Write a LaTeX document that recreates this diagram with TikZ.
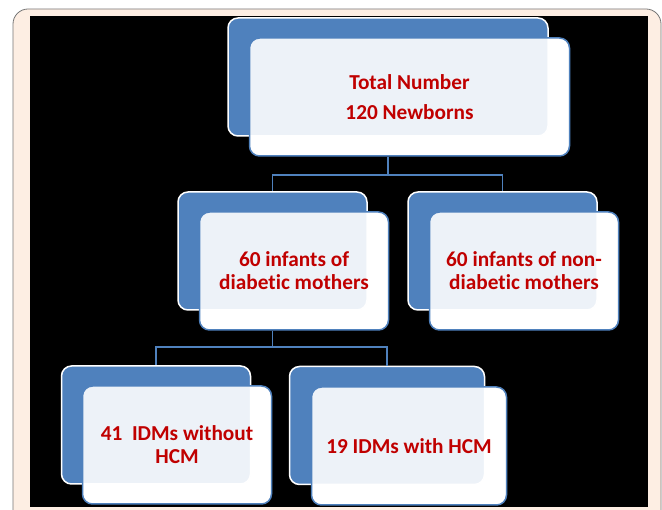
\documentclass[tikz,border=0pt]{standalone}
\usepackage{fontspec}
\setmainfont{Carlito}[Ligatures=NoCommon]
\usetikzlibrary{positioning,calc}
\definecolor{smartblue}{RGB}{79,129,189}
\definecolor{textred}{RGB}{192,0,0}
\definecolor{softpeach}{RGB}{253,238,227}
\definecolor{framegray}{RGB}{118,118,118}

\tikzset{
  backbox/.style={draw=white, line width=1.5pt, fill=smartblue, rounded corners=10pt, minimum height=118pt, inner sep=0pt},
  frontbase/.style={fill=white, rounded corners=10pt, minimum height=118pt, inner sep=0pt},
  frontbox/.style={draw=smartblue, line width=1.5pt, fill=white, fill opacity=0.9, text opacity=1, rounded corners=10pt,
    minimum height=118pt, inner sep=0pt, align=center, text=textred, font=\bfseries\fontsize{21.3}{23}\selectfont},
  link/.style={draw=smartblue, line width=1.8pt}
}

\begin{document}
\begin{tikzpicture}[x=1pt, y=-1pt]
        \useasboundingbox (0,0) rectangle (662,510);
        \fill[white] (0,0) rectangle (662,510);
        \draw[draw=framegray, fill=softpeach, line width=0.8pt, rounded corners=15pt] (13,9) rectangle (661,540);
        \fill[black] (30,16) rectangle (648,507);
        % top level
        \node[frontbase, minimum width=320pt] (totalbase) at (409.5,97) {};
        \node[backbox, minimum width=320pt] (totalback) at (388,77) {};
        \node[frontbox, minimum width=320pt, font=\bfseries\fontsize{21.3}{30}\selectfont] (total) at (409.5,97) {Total Number\\120 Newborns};
        % second level
        \node[frontbase, minimum width=189pt] (idmbase) at (294,271) {};
        \node[backbox, minimum width=189pt] (idmback) at (272.5,251) {};
        \node[frontbox, minimum width=189pt] (idm) at (294,271) {60 infants of\\diabetic mothers};
        \node[frontbase, minimum width=189pt] (nonbase) at (524,271) {};
        \node[backbox, minimum width=189pt] (nonback) at (502.5,251) {};
        \node[frontbox, minimum width=189pt] (non) at (524,271) {60 infants of non-\\diabetic mothers};
        % third level
        \node[frontbase, minimum width=189pt] (withoutbase) at (177,445) {};
        \node[backbox, minimum width=189pt] (withoutback) at (156,425) {};
        \node[frontbox, minimum width=189pt] (without) at (177,445) {41\ \ IDMs without\\HCM};
        \node[frontbase, minimum width=195pt] (withbase) at (409,446) {};
        \node[backbox, minimum width=195pt] (withback) at (387,425.5) {};
        \node[frontbox, minimum width=195pt] (with) at (409,446) {19 IDMs with HCM};
        % connectors
        \draw[link] (totalback.south |- total.south) -- ++(0,18.5) -| (idmback.north);
        \draw[link] (totalback.south |- total.south) -- ++(0,18.5) -| (nonback.north);
        \draw[link] (idmback.south |- idm.south) -- ++(0,16.5) -| (withoutback.north);
        \draw[link] (idmback.south |- idm.south) -- ++(0,16.5) -| (withback.north);
      \end{tikzpicture}
\end{document}
